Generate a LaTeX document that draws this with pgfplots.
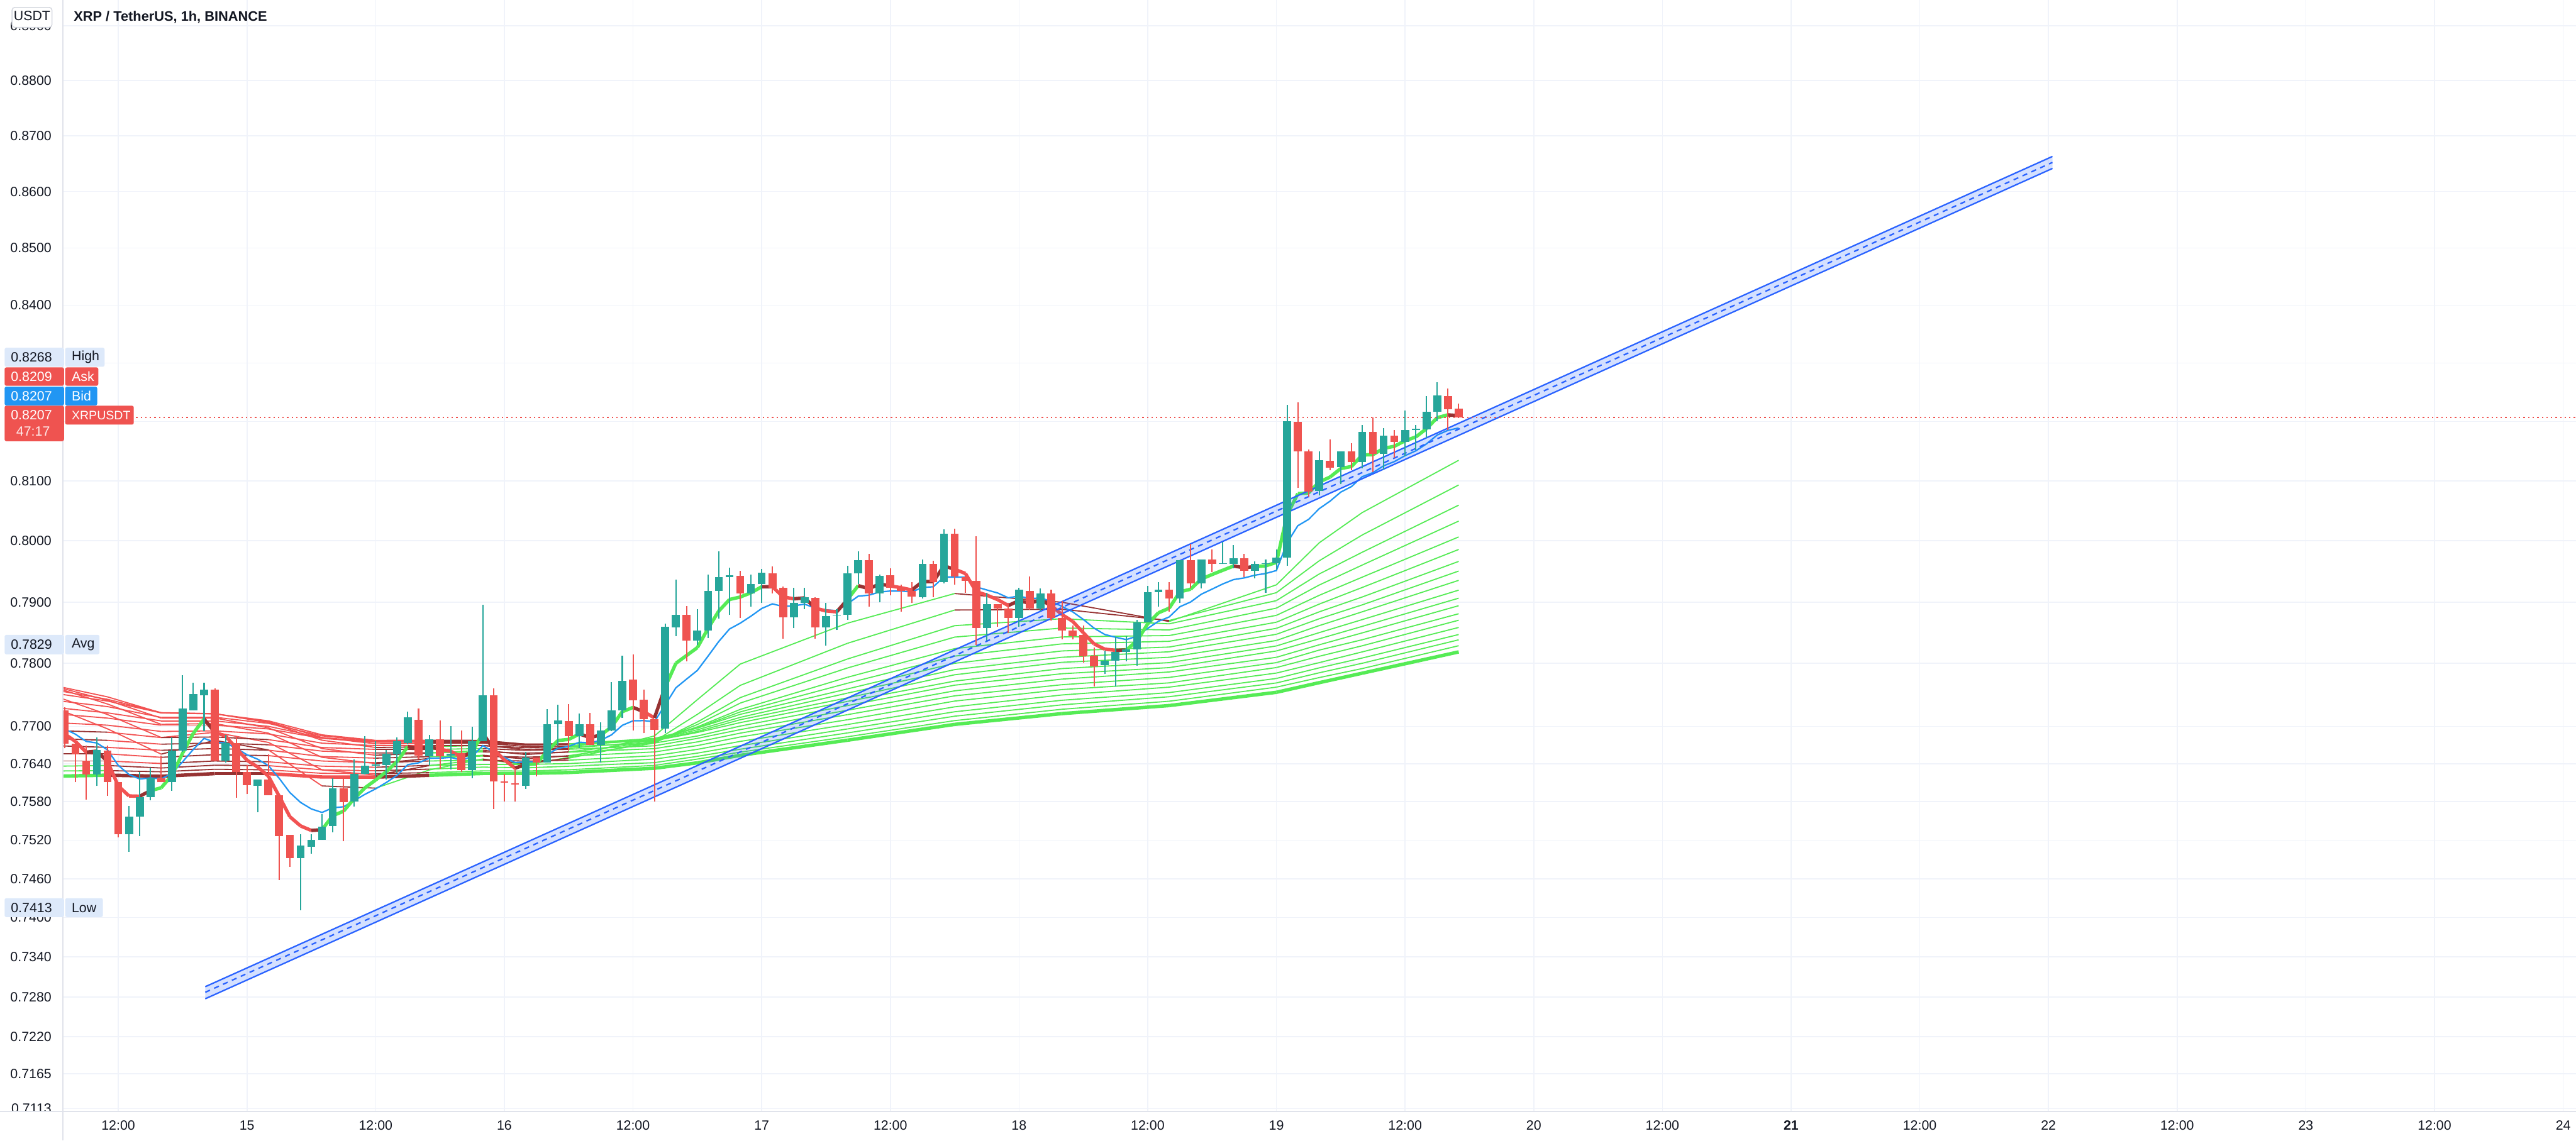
\documentclass[border=0pt]{standalone}
\usepackage{fontspec}
\setmainfont{Liberation Sans}
\usepackage{pgfplots}
\usepackage{pgfplotstable}
\pgfplotsset{compat=1.18}

\definecolor{txt}{HTML}{131722}
\definecolor{gridc}{HTML}{F0F3FA}
\definecolor{sepc}{HTML}{E0E3EB}
\definecolor{upc}{HTML}{26A69A}
\definecolor{dnc}{HTML}{EF5350}
\definecolor{emablue}{HTML}{2196F3}
\definecolor{chan}{HTML}{2962FF}
\definecolor{lblue}{HTML}{DDE9FA}
\definecolor{boxgray}{HTML}{D1D4DC}

% hourly candles, h = hours after 14th 00:00; e5 = fast EMA, b = blue EMA
\pgfplotstableread{
h o hi lo c e5 b
7 0.7726 0.7729 0.7664 0.7672 0.76873 0.76949
8 0.7672 0.7674 0.7611 0.7654 0.76762 0.76875
9 0.7645 0.7668 0.7584 0.7623 0.76585 0.76758
10 0.7623 0.7682 0.7605 0.7662 0.76597 0.76733
11 0.7661 0.7668 0.7589 0.7611 0.76435 0.76620
12 0.7611 0.7611 0.7524 0.7529 0.76053 0.76378
13 0.7529 0.7574 0.7502 0.7557 0.75892 0.76231
14 0.7557 0.7627 0.7526 0.7587 0.75885 0.76165
15 0.7587 0.7635 0.7582 0.7618 0.75983 0.76168
16 0.7618 0.7653 0.7611 0.7611 0.76025 0.76157
17 0.7611 0.7681 0.7597 0.7661 0.76220 0.76239
18 0.7661 0.7782 0.7658 0.7728 0.76573 0.76428
19 0.7726 0.7770 0.7726 0.7751 0.76885 0.76625
20 0.7749 0.7770 0.7691 0.7758 0.77117 0.76799
21 0.7758 0.7760 0.7644 0.7645 0.76895 0.76736
22 0.7645 0.7686 0.7641 0.7673 0.76840 0.76735
23 0.7673 0.7683 0.7586 0.7627 0.76650 0.76650
24 0.7627 0.7638 0.7592 0.7606 0.76453 0.76543
25 0.7605 0.7615 0.7564 0.7615 0.76352 0.76472
26 0.7614 0.7654 0.7591 0.7591 0.76205 0.76370
27 0.7591 0.7591 0.7458 0.7527 0.75893 0.76170
28 0.7528 0.7528 0.7479 0.7492 0.75569 0.75943
29 0.7492 0.7529 0.7412 0.7511 0.75416 0.75792
30 0.7510 0.7529 0.7499 0.7521 0.75347 0.75686
31 0.7521 0.7561 0.7521 0.7541 0.75368 0.75636
32 0.7542 0.7617 0.7533 0.7602 0.75585 0.75706
33 0.7602 0.7620 0.7518 0.7579 0.75653 0.75721
34 0.7580 0.7647 0.7572 0.7624 0.75849 0.75815
35 0.7624 0.7684 0.7623 0.7637 0.76023 0.75916
36 0.7637 0.7675 0.7620 0.7638 0.76142 0.76000
37 0.7638 0.7662 0.7614 0.7656 0.76281 0.76102
38 0.7655 0.7682 0.7626 0.7675 0.76437 0.76220
39 0.7673 0.7722 0.7671 0.7714 0.76671 0.76387
40 0.7710 0.7728 0.7648 0.7653 0.76624 0.76413
41 0.7652 0.7685 0.7638 0.7679 0.76679 0.76482
42 0.7679 0.7709 0.7632 0.7651 0.76623 0.76487
43 0.7653 0.7700 0.7631 0.7656 0.76602 0.76500
44 0.7657 0.7693 0.7628 0.7630 0.76501 0.76464
45 0.7630 0.7699 0.7617 0.7675 0.76584 0.76516
46 0.7675 0.7896 0.7675 0.7749 0.76886 0.76693
47 0.7749 0.7760 0.7569 0.7612 0.76631 0.76589
48 0.7612 0.7624 0.7580 0.7610 0.76454 0.76500
49 0.7608 0.7633 0.7580 0.7607 0.76326 0.76422
50 0.7605 0.7658 0.7600 0.7650 0.76384 0.76436
51 0.7650 0.7650 0.7621 0.7642 0.76396 0.76433
52 0.7642 0.7727 0.7642 0.7702 0.76604 0.76540
53 0.7702 0.7734 0.7668 0.7709 0.76766 0.76640
54 0.7708 0.7736 0.7661 0.7684 0.76791 0.76676
55 0.7684 0.7720 0.7665 0.7703 0.76871 0.76740
56 0.7703 0.7721 0.7670 0.7670 0.76814 0.76733
57 0.7670 0.7706 0.7642 0.7693 0.76853 0.76769
58 0.7693 0.7771 0.7691 0.7725 0.76985 0.76856
59 0.7725 0.7814 0.7712 0.7772 0.77230 0.77013
60 0.7774 0.7815 0.7693 0.7741 0.77290 0.77085
61 0.7742 0.7758 0.7688 0.7711 0.77230 0.77090
62 0.7711 0.7711 0.7581 0.7694 0.77133 0.77063
63 0.7696 0.7865 0.7688 0.7860 0.77622 0.77342
64 0.7859 0.7937 0.7844 0.7879 0.78011 0.77605
65 0.7879 0.7894 0.7804 0.7837 0.78131 0.77744
66 0.7837 0.7888 0.7831 0.7853 0.78264 0.77887
67 0.7853 0.7946 0.7842 0.7919 0.78573 0.78124
68 0.7919 0.7984 0.7873 0.7941 0.78852 0.78358
69 0.7941 0.7957 0.7879 0.7944 0.79048 0.78555
70 0.7943 0.7951 0.7874 0.7914 0.79079 0.78661
71 0.7914 0.7946 0.7893 0.7930 0.79153 0.78777
72 0.7930 0.7954 0.7899 0.7948 0.79262 0.78905
73 0.7947 0.7959 0.7914 0.7924 0.79255 0.78966
74 0.7924 0.7926 0.7841 0.7876 0.79090 0.78929
75 0.7876 0.7924 0.7857 0.7899 0.79057 0.78940
76 0.7899 0.7924 0.7888 0.7908 0.79065 0.78965
77 0.7907 0.7908 0.7840 0.7859 0.78907 0.78897
78 0.7859 0.7899 0.7829 0.7877 0.78861 0.78874
79 0.7878 0.7888 0.7855 0.7879 0.78837 0.78859
80 0.7879 0.7960 0.7872 0.7947 0.79048 0.78970
81 0.7947 0.7983 0.7930 0.7970 0.79265 0.79103
82 0.7970 0.7979 0.7893 0.7914 0.79223 0.79110
83 0.7914 0.7946 0.7900 0.7943 0.79292 0.79168
84 0.7944 0.7956 0.7911 0.7924 0.79275 0.79181
85 0.7924 0.7928 0.7884 0.7918 0.79243 0.79181
86 0.7918 0.7933 0.7899 0.7909 0.79192 0.79164
87 0.7908 0.7971 0.7905 0.7962 0.79335 0.79247
88 0.7962 0.7968 0.7908 0.7933 0.79333 0.79262
89 0.7933 0.8019 0.7931 0.8012 0.79595 0.79418
90 0.8012 0.8020 0.7928 0.7942 0.79537 0.79418
91 0.7941 0.7943 0.7916 0.7935 0.79475 0.79406
92 0.7936 0.8007 0.7830 0.7858 0.79177 0.79256
93 0.7858 0.7916 0.7838 0.7897 0.79108 0.79204
94 0.7897 0.7897 0.7860 0.7890 0.79039 0.79149
95 0.7890 0.7898 0.7849 0.7874 0.78939 0.79075
96 0.7874 0.7924 0.7860 0.7920 0.79026 0.79098
97 0.7918 0.7942 0.7887 0.7890 0.78984 0.79062
98 0.7890 0.7922 0.7886 0.7914 0.79036 0.79076
99 0.7914 0.7920 0.7870 0.7875 0.78941 0.79017
100 0.7875 0.7902 0.7839 0.7853 0.78804 0.78928
101 0.7854 0.7861 0.7839 0.7845 0.78686 0.78841
102 0.7846 0.7861 0.7802 0.7812 0.78497 0.78710
103 0.7813 0.7826 0.7763 0.7796 0.78318 0.78574
104 0.7798 0.7822 0.7783 0.7805 0.78229 0.78479
105 0.7805 0.7843 0.7764 0.7819 0.78216 0.78426
106 0.7819 0.7845 0.7804 0.7823 0.78221 0.78390
107 0.7823 0.7872 0.7797 0.7868 0.78374 0.78443
108 0.7868 0.7927 0.7867 0.7917 0.78639 0.78575
109 0.7917 0.7933 0.7893 0.7921 0.78829 0.78690
110 0.7921 0.7932 0.7884 0.7905 0.78903 0.78755
111 0.7905 0.7969 0.7899 0.7969 0.79165 0.78925
112 0.7970 0.7997 0.7923 0.7931 0.79213 0.78995
113 0.7931 0.7971 0.7923 0.7971 0.79379 0.79125
114 0.7971 0.7987 0.7949 0.7962 0.79459 0.79215
115 0.7962 0.7999 0.7962 0.7964 0.79519 0.79292
116 0.7963 0.7993 0.7956 0.7973 0.79589 0.79372
117 0.7973 0.7980 0.7941 0.7951 0.79563 0.79397
118 0.7951 0.7966 0.7940 0.7962 0.79582 0.79438
119 0.7962 0.7971 0.7915 0.7964 0.79601 0.79475
120 0.7964 0.7987 0.7952 0.7974 0.79647 0.79523
121 0.7974 0.8229 0.7960 0.8200 0.80431 0.79973
122 0.8199 0.8233 0.8088 0.8149 0.80784 0.80249
123 0.8149 0.8153 0.8073 0.8082 0.80796 0.80353
124 0.8083 0.8149 0.8076 0.8135 0.80981 0.80534
125 0.8134 0.8170 0.8118 0.8122 0.81061 0.80659
126 0.8123 0.8149 0.8094 0.8149 0.81204 0.80810
127 0.8149 0.8163 0.8118 0.8131 0.81239 0.80901
128 0.8131 0.8194 0.8121 0.8182 0.81433 0.81068
129 0.8182 0.8207 0.8114 0.8145 0.81439 0.81137
130 0.8145 0.8189 0.8119 0.8176 0.81546 0.81250
131 0.8176 0.8186 0.8139 0.8165 0.81581 0.81323
132 0.8165 0.8219 0.8141 0.8186 0.81674 0.81421
133 0.8186 0.8194 0.8152 0.8187 0.81739 0.81503
134 0.8187 0.8243 0.8172 0.8216 0.81879 0.81622
135 0.8216 0.8267 0.8200 0.8244 0.82066 0.81771
136 0.8243 0.8256 0.8186 0.8221 0.82114 0.81851
137 0.8222 0.8230 0.8207 0.8207 0.82099 0.81891
}\candles

% EMA ribbon (periods 20..200), px = fast EMA used for the colour
\pgfplotstableread{
h px n20 n30 n40 n50 n60 n70 n80 n90 n100 n110 n120 n130 n140 n150 n160 n170 n180 n190 n200
6 0.7695 0.7730 0.7748 0.7762 0.77635 0.7765 0.77585 0.7752 0.7741 0.7730 0.7719 0.7706 0.7693 0.7680 0.7668 0.7656 0.7644 0.76363 0.76287 0.7621
11 0.76435 0.76962 0.77185 0.77359 0.77412 0.77464 0.77429 0.77393 0.77304 0.77214 0.77125 0.77008 0.76892 0.76775 0.76663 0.76552 0.7644 0.76367 0.76294 0.76221
16 0.76025 0.76554 0.76818 0.7703 0.77123 0.77216 0.77213 0.7721 0.77144 0.77078 0.77012 0.76911 0.7681 0.76709 0.76608 0.76506 0.76405 0.76337 0.76269 0.76201
21 0.76895 0.76765 0.76895 0.77043 0.7712 0.77197 0.77197 0.77196 0.77137 0.77078 0.77019 0.76924 0.7683 0.76735 0.76638 0.76541 0.76444 0.76377 0.76311 0.76244
26 0.76205 0.76618 0.76739 0.76882 0.7697 0.77057 0.77072 0.77087 0.77042 0.76998 0.76953 0.76869 0.76786 0.76702 0.76612 0.76523 0.76433 0.7637 0.76307 0.76244
31 0.75368 0.76054 0.76298 0.76506 0.76638 0.76769 0.76816 0.76863 0.76842 0.7682 0.76799 0.76732 0.76664 0.76597 0.76519 0.7644 0.76362 0.76305 0.76249 0.76192
36 0.76142 0.76018 0.76219 0.76405 0.76535 0.76664 0.76719 0.76774 0.76763 0.76751 0.7674 0.76682 0.76623 0.76565 0.76493 0.7642 0.76348 0.76295 0.76242 0.76189
41 0.76679 0.76306 0.7637 0.76481 0.76579 0.76677 0.76724 0.76771 0.76761 0.76751 0.76741 0.76687 0.76632 0.76578 0.76509 0.7644 0.76371 0.76319 0.76267 0.76216
46 0.76886 0.76471 0.7647 0.76535 0.7661 0.76684 0.76725 0.76765 0.76756 0.76748 0.76739 0.76689 0.76638 0.76588 0.76522 0.76457 0.76391 0.76341 0.76291 0.76241
50 0.76384 0.76381 0.76406 0.76474 0.76549 0.76623 0.76667 0.76711 0.76708 0.76704 0.76701 0.76656 0.76611 0.76566 0.76505 0.76443 0.76382 0.76334 0.76287 0.76239
54 0.76791 0.76498 0.76491 0.7653 0.76588 0.76646 0.76683 0.7672 0.76716 0.76713 0.76709 0.76666 0.76624 0.76581 0.76522 0.76462 0.76403 0.76356 0.76309 0.76262
62 0.77133 0.76849 0.76758 0.7673 0.76746 0.76761 0.76778 0.76795 0.76786 0.76776 0.76767 0.76725 0.76683 0.76641 0.76584 0.76526 0.76469 0.76422 0.76376 0.76329
66 0.78264 0.77418 0.77183 0.77064 0.77026 0.76987 0.76976 0.76964 0.76941 0.76917 0.76894 0.76845 0.76797 0.76748 0.76687 0.76627 0.76566 0.76516 0.76467 0.76417
70 0.79079 0.77998 0.77658 0.77457 0.77364 0.7727 0.77227 0.77183 0.77142 0.77101 0.7706 0.77003 0.76946 0.76889 0.76823 0.76756 0.7669 0.76636 0.76583 0.76529
80 0.79048 0.78661 0.78334 0.78083 0.77929 0.77774 0.77685 0.77595 0.77527 0.77458 0.7739 0.77319 0.77247 0.77176 0.77101 0.77026 0.76951 0.7689 0.76829 0.76769
90 0.79537 0.79145 0.78866 0.78612 0.78428 0.78243 0.78122 0.78 0.7791 0.77819 0.77729 0.77645 0.7756 0.77476 0.77393 0.7731 0.77226 0.77158 0.7709 0.77022
100 0.78804 0.78994 0.78885 0.78728 0.7858 0.78431 0.78316 0.782 0.78108 0.78017 0.77925 0.77839 0.77752 0.77666 0.77581 0.77497 0.77412 0.77342 0.77271 0.77201
110 0.78903 0.78689 0.78703 0.78643 0.78549 0.78454 0.78362 0.78269 0.78187 0.78104 0.78022 0.77941 0.7786 0.77779 0.77697 0.77616 0.77534 0.77465 0.77395 0.77326
120 0.79647 0.79278 0.7915 0.79028 0.78907 0.78785 0.78677 0.78568 0.78475 0.78381 0.78288 0.782 0.78112 0.78024 0.77938 0.77851 0.77765 0.77691 0.77618 0.77544
124 0.80981 0.79983 0.7968 0.79461 0.79287 0.79113 0.78976 0.78839 0.78728 0.78618 0.78507 0.78409 0.78311 0.78213 0.7812 0.78026 0.77933 0.77854 0.77775 0.77696
128 0.81433 0.80468 0.80096 0.79823 0.79615 0.79406 0.79247 0.79088 0.78963 0.78839 0.78714 0.78607 0.785 0.78393 0.78294 0.78194 0.78095 0.78011 0.77927 0.77843
137 0.82099 0.81343 0.80929 0.80591 0.80327 0.80063 0.79863 0.79663 0.79509 0.79355 0.79201 0.79074 0.78948 0.78821 0.78708 0.78594 0.78481 0.78386 0.78291 0.78196
}\ribbon

\begin{document}
\begin{tikzpicture}[font=\fontsize{4.7}{5.6}\selectfont]
\useasboundingbox (0,0) rectangle (901.2pt,399.2pt);
\begin{axis}[
  at={(22pt,10.2pt)}, anchor=south west,
  width=879.2pt, height=389pt, scale only axis,
  xmin=6.834, xmax=241.2,
  ymode=log, ymin=0.7109, ymax=0.89478,
  axis line style={draw=none},
  tick style={draw=none}, major tick length=0pt,
  grid=major, major grid style={draw=gridc, line width=0.35pt},
  xtick={12,24,...,240},
  xticklabels={12:00,15,12:00,16,12:00,17,12:00,18,12:00,19,12:00,20,12:00,\textbf{21},12:00,22,12:00,23,12:00,24},
  ytick={0.7113,0.7165,0.722,0.728,0.734,0.740,0.746,0.752,0.758,0.764,0.77,0.78,0.79,0.80,0.81,0.82,0.83,0.84,0.85,0.86,0.87,0.88,0.89},
  yticklabels={0.7113,0.7165,0.7220,0.7280,0.7340,0.7400,0.7460,0.7520,0.7580,0.7640,0.7700,0.7800,0.7900,0.8000,0.8100,{},{},0.8400,0.8500,0.8600,0.8700,0.8800,0.8900},
  yticklabel style={anchor=east, inner sep=0pt, xshift=-3.8pt, text=txt},
  xticklabel style={anchor=north, inner sep=0pt, yshift=-3pt, text=txt},
  colormap={rib}{rgb255(0cm)=(242,82,82) rgb255(1cm)=(150,50,50) rgb255(2cm)=(85,235,85)},
  point meta min=0, point meta max=1,
  candle/.style={only marks, mark size=0pt, mark options={draw=none, fill=none}, forget plot,
    error bars/.cd, y dir=plus, y explicit, error mark=none},
]
% EMA ribbon
\pgfplotsinvokeforeach{n20,n30,n40,n50,n60,n70,n80,n90,n100,n110,n120,n130,n140,n150,n160,n170,n180,n190}{
  \addplot[mesh, shader=flat mean, line width=0.4pt, forget plot, point meta=explicit]
    table[x=h, y=#1, meta expr={ifthenelse(\thisrow{#1}<\thisrow{px},1,0)}]{\ribbon};
}
\addplot[mesh, shader=flat mean, line width=1.2pt, forget plot, point meta=explicit]
  table[x=h, y=n200, meta expr={ifthenelse(\thisrow{n200}<\thisrow{px},1,0)}]{\ribbon};
% blue EMA and fast EMA
\addplot[emablue, line width=0.5pt, forget plot] table[x=h, y=b]{\candles};
\addplot[mesh, shader=flat mean, line width=1.2pt, forget plot, point meta=explicit]
  table[x=h, y=e5, meta expr={ifthenelse(\thisrow{c}>=\thisrow{e5},1,0)}]{\candles};
% parallel channel
\addplot[draw=none, fill=chan, fill opacity=0.2, forget plot]
  coordinates {(20.11,0.72954) (192.37,0.86627) (192.37,0.86412) (20.11,0.72773)};
\addplot[chan, line width=0.5pt, forget plot] coordinates {(20.11,0.72954) (192.37,0.86627)};
\addplot[chan, line width=0.5pt, forget plot] coordinates {(20.11,0.72773) (192.37,0.86412)};
\addplot[chan, line width=0.5pt, dash pattern=on 1.8pt off 1.6pt, forget plot]
  coordinates {(20.11,0.72864) (192.37,0.86520)};
% last price line
\addplot[dnc, line width=0.4pt, dash pattern=on 0.5pt off 1.1pt, forget plot]
  coordinates {(13.66,0.8207) (241.2,0.8207)};
% candles: wicks (candles of the other colour are moved off the axis)
\addplot[candle, error bar style={line width=0.45pt, draw=upc}]
  table[x expr={ifthenelse(\thisrow{c}>=\thisrow{o},\thisrow{h},-100)}, y=lo,
        y error expr=\thisrow{hi}-\thisrow{lo}]{\candles};
\addplot[candle, error bar style={line width=0.45pt, draw=dnc}]
  table[x expr={ifthenelse(\thisrow{c}<\thisrow{o},\thisrow{h},-100)}, y=lo,
        y error expr=\thisrow{hi}-\thisrow{lo}]{\candles};
% candles: bodies
\addplot[candle, error bar style={line width=2.8pt, draw=upc}]
  table[x expr={ifthenelse(\thisrow{c}>=\thisrow{o},\thisrow{h},-100)}, y=o,
        y error expr={max(\thisrow{c}-\thisrow{o},0.0002)}]{\candles};
\addplot[candle, error bar style={line width=2.8pt, draw=dnc}]
  table[x expr={ifthenelse(\thisrow{c}<\thisrow{o},\thisrow{h},-100)}, y=c,
        y error expr={max(\thisrow{o}-\thisrow{c},0.0002)}]{\candles};
\end{axis}

% price scale panel edges
\fill[white] (0,0) rectangle (21.7pt,10.1pt);
\draw[sepc, line width=0.6pt] (22pt,0) -- (22pt,399.2pt);
\draw[sepc, line width=0.6pt] (0,10.2pt) -- (901.2pt,10.2pt);

% header
\draw[boxgray, fill=white, rounded corners=1pt, line width=0.3pt] (4.2pt,389.6pt) rectangle (18.2pt,396.6pt);
\node[text=txt, inner sep=0pt] at (11.2pt,393.6pt) {USDT};
\node[anchor=west, text=txt, inner sep=0pt] at (25.6pt,393.1pt) {\fontsize{4.8}{5.6}\selectfont\textbf{XRP / TetherUS, 1h, BINANCE}};

% price labels
\tikzset{lbl/.style={rounded corners=0.6pt, draw=none}}
\fill[lblue, lbl] (1.6pt,270.86pt) rectangle (22.4pt,277.48pt);
\fill[lblue, lbl] (22.8pt,270.86pt) rectangle (36.6pt,277.48pt);
\node[text=txt] at (11pt,274.17pt) {0.8268};
\node[text=txt, anchor=west, inner sep=0pt] at (24.9pt,274.17pt) {High};

\fill[dnc, lbl] (1.6pt,264.2pt) rectangle (22.4pt,270.6pt);
\fill[dnc, lbl] (22.8pt,264.2pt) rectangle (34.4pt,270.6pt);
\node[text=white] at (11pt,267.4pt) {0.8209};
\node[text=white, anchor=west, inner sep=0pt] at (24.9pt,267.4pt) {Ask};

\fill[emablue, lbl] (1.6pt,257.28pt) rectangle (22.4pt,263.88pt);
\fill[emablue, lbl] (22.8pt,257.28pt) rectangle (34pt,263.88pt);
\node[text=white] at (11pt,260.58pt) {0.8207};
\node[text=white, anchor=west, inner sep=0pt] at (24.9pt,260.58pt) {Bid};

\fill[dnc, lbl] (1.6pt,244.8pt) rectangle (22.4pt,257.2pt);
\fill[dnc, lbl] (22.8pt,250.6pt) rectangle (46.8pt,257.2pt);
\node[text=white] at (11pt,254.0pt) {0.8207};
\node[text=white!85!dnc] at (11.6pt,248.2pt) {47:17};
\node[text=white, anchor=west, inner sep=0pt] at (24.9pt,253.9pt) {\fontsize{4.3}{5}\selectfont XRPUSDT};

\fill[lblue, lbl] (1.6pt,170.2pt) rectangle (22.4pt,177pt);
\fill[lblue, lbl] (22.8pt,170.2pt) rectangle (34.8pt,177pt);
\node[text=txt] at (11pt,173.6pt) {0.7829};
\node[text=txt, anchor=west, inner sep=0pt] at (24.9pt,173.6pt) {Avg};

\fill[lblue, lbl] (1.6pt,78.24pt) rectangle (22.4pt,84.84pt);
\fill[lblue, lbl] (22.8pt,78.24pt) rectangle (36pt,84.84pt);
\node[text=txt] at (11pt,81.54pt) {0.7413};
\node[text=txt, anchor=west, inner sep=0pt] at (24.9pt,81.54pt) {Low};
\end{tikzpicture}
\end{document}
